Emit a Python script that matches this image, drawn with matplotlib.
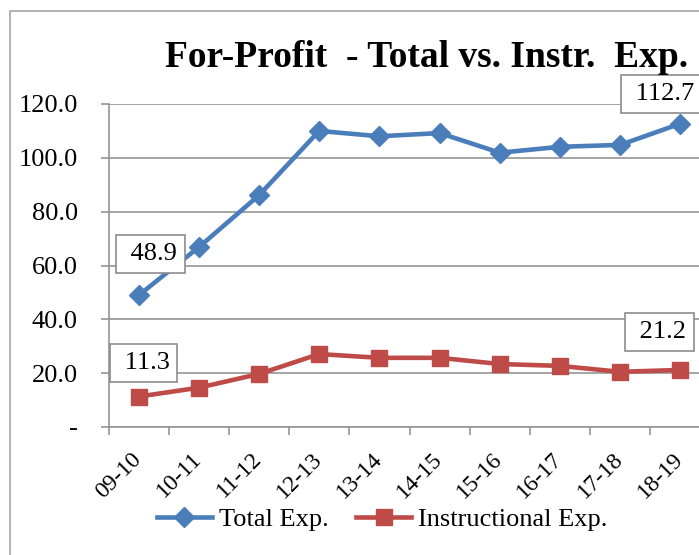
import numpy as np
import matplotlib
matplotlib.use("Agg")
import matplotlib.pyplot as plt
from matplotlib.patches import Rectangle
from matplotlib.transforms import ScaledTranslation

plt.rcParams['font.family'] = ['Liberation Serif', 'DejaVu Serif']

# data
years = ['09-10', '10-11', '11-12', '12-13', '13-14',
         '14-15', '15-16', '16-17', '17-18', '18-19']
total_exp = [48.9, 66.8, 86.1, 110.0, 108.0, 109.2, 101.9, 104.1, 104.8, 112.7]
instr_exp = [11.3, 14.6, 19.7, 27.1, 25.7, 25.7, 23.4, 22.7, 20.5, 21.2]
yticks = [0, 20, 40, 60, 80, 100, 120]
ytick_labels = ['-', '20.0', '40.0', '60.0', '80.0', '100.0', '120.0']

blue = '#4A7EBB'
red = '#BE4B48'
gray = '#959595'

fig = plt.figure(figsize=(6.99, 5.55), dpi=100)

# chart border, runs off the right and bottom edge
fig.patches.append(Rectangle((10 / 699, -0.1), 1.2, 1 - 11 / 555 + 0.1,
                             transform=fig.transFigure, fill=False,
                             edgecolor='#A6A6A6', linewidth=1.2))

ax = fig.add_axes([108.5 / 699, 1 - 427 / 555, 602 / 699, 323 / 555])
x = np.arange(len(years))

ax.plot(x, total_exp, color=blue, lw=3.3, marker='D', ms=10,
        label='Total Exp.', zorder=3)
ax.plot(x, instr_exp, color=red, lw=3.3, marker='s', ms=12,
        label='Instructional Exp.', zorder=3)

ax.set_xlim(-0.5, len(years) - 0.5)
ax.set_ylim(0, 120)
ax.set_yticks(yticks)
ax.set_yticklabels(ytick_labels, fontsize=19)
ax.yaxis.grid(True, color=gray, lw=1.2)
ax.set_axisbelow(True)

ax.set_xticks(x)
ax.set_xticklabels(years, rotation=45, ha='right', rotation_mode='anchor',
                   fontsize=17)
ax.tick_params(axis='x', length=0, pad=6)
shift = ScaledTranslation(-8 / 100, -13 / 100, fig.dpi_scale_trans)
for lab in ax.get_xticklabels():
    lab.set_transform(lab.get_transform() + shift)
ax.set_xticks(np.arange(-0.5, len(years), 1), minor=True)
ax.tick_params(axis='x', which='minor', length=6, color=gray, width=1.2)
ax.tick_params(axis='y', length=6, color=gray, width=1.2, pad=16)

for s in ['top', 'right']:
    ax.spines[s].set_visible(False)
for s in ['left', 'bottom']:
    ax.spines[s].set_color(gray)
    ax.spines[s].set_linewidth(1.2)

# value boxes at first and last points (text sits a bit right in the box)
box = dict(boxstyle='square,pad=0.3', fc='white', ec='#8C8C8C', lw=1.2)
labels = [(0, total_exp[0], 12, 41), (0, instr_exp[0], 5, 34),
          (9, total_exp[9], -19, 30), (9, instr_exp[9], -21, 38)]
for i, v, dx, dy in labels:
    ax.annotate(f' {v:.1f}', (x[i], v), xytext=(dx, dy),
                textcoords='offset pixels', ha='center', va='center',
                fontsize=19, bbox=box, annotation_clip=False, zorder=5)

fig.text(165 / 699, 1 - 67 / 555, 'For-Profit  - Total vs. Instr.  Exp.',
         fontsize=27, fontweight='bold', ha='left', va='baseline')

fig.legend(loc='center', bbox_to_anchor=(382 / 699, 1 - 519 / 555),
           ncol=2, frameon=False, fontsize=19, handlelength=2.1,
           handletextpad=0.25, columnspacing=1.05)

fig.savefig('out.png', dpi=100)
